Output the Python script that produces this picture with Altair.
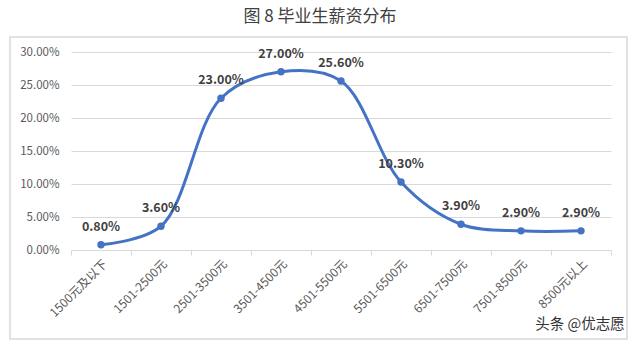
import altair as alt
import pandas as pd

categories = ["1500元及以下", "1501-2500元", "2501-3500元", "3501-4500元", "4501-5500元",
              "5501-6500元", "6501-7500元", "7501-8500元", "8500元以上"]
values = [0.008, 0.036, 0.23, 0.27, 0.256, 0.103, 0.039, 0.029, 0.029]
title_text = "图 8  毕业生薪资分布"
credit_text = "头条 @优志愿"

df = pd.DataFrame({"cat": categories, "val": values})
one = pd.DataFrame({"k": [0]})

FONT = "Noto Sans CJK SC"
BLUE = "#4472C4"

x = alt.X("cat:N", sort=None, bandPosition=0.5, title=None,
          scale=alt.Scale(type="band", paddingInner=0, paddingOuter=0),
          axis=alt.Axis(labelAngle=-45, labelAlign="right", labelBaseline="top",
                        labelFontSize=12, labelColor="#595959", labelFont=FONT,
                        labelPadding=3, tickBand="extent", ticks=True, tickSize=5,
                        tickColor="#D9D9D9", domainColor="#D9D9D9", grid=False))
y = alt.Y("val:Q", title=None,
          scale=alt.Scale(domain=[0, 0.30], nice=False),
          axis=alt.Axis(format=".2%", values=[0, 0.05, 0.10, 0.15, 0.20, 0.25, 0.30],
                        labelFontSize=11.5, labelColor="#595959", labelFont=FONT,
                        labelPadding=12, ticks=False, domain=False,
                        gridColor="#D9D9D9", gridWidth=1))

base = alt.Chart(df)
line = base.mark_line(color=BLUE, strokeWidth=3, interpolate="catmull-rom").encode(x=x, y=y)
pts = base.mark_circle(color=BLUE, size=55, opacity=1).encode(x=x, y=y)
labels = base.mark_text(dy=-18, fontSize=12.5, fontWeight="bold", color="#404040",
                        font=FONT).encode(x=x, y=y, text=alt.Text("val:Q", format=".2%"))

border = alt.Chart(one).mark_rect(fill=None, stroke="#D9D9D9", strokeWidth=1.5).encode(
    x=alt.value(-61), x2=alt.value(556), y=alt.value(-15), y2=alt.value(287))
title = alt.Chart(one).mark_text(text=title_text, fontSize=17, color="#404040", font=FONT,
                                 align="center", baseline="middle").encode(
    x=alt.value(249), y=alt.value(-35))
credit = alt.Chart(one).mark_text(text=credit_text, fontSize=14.5, color="#333333", font=FONT,
                                  align="center", baseline="middle").encode(
    x=alt.value(509), y=alt.value(273))

chart = alt.layer(border, line, pts, labels, title, credit).properties(
    width=540, height=198,
    autosize=alt.AutoSizeParams(type="none"),
    padding={"left": 71, "top": 52, "right": 29, "bottom": 99},
    background="white",
).configure_view(stroke=None)

chart.save("out.html", embed_options={"renderer": "svg", "actions": False})
